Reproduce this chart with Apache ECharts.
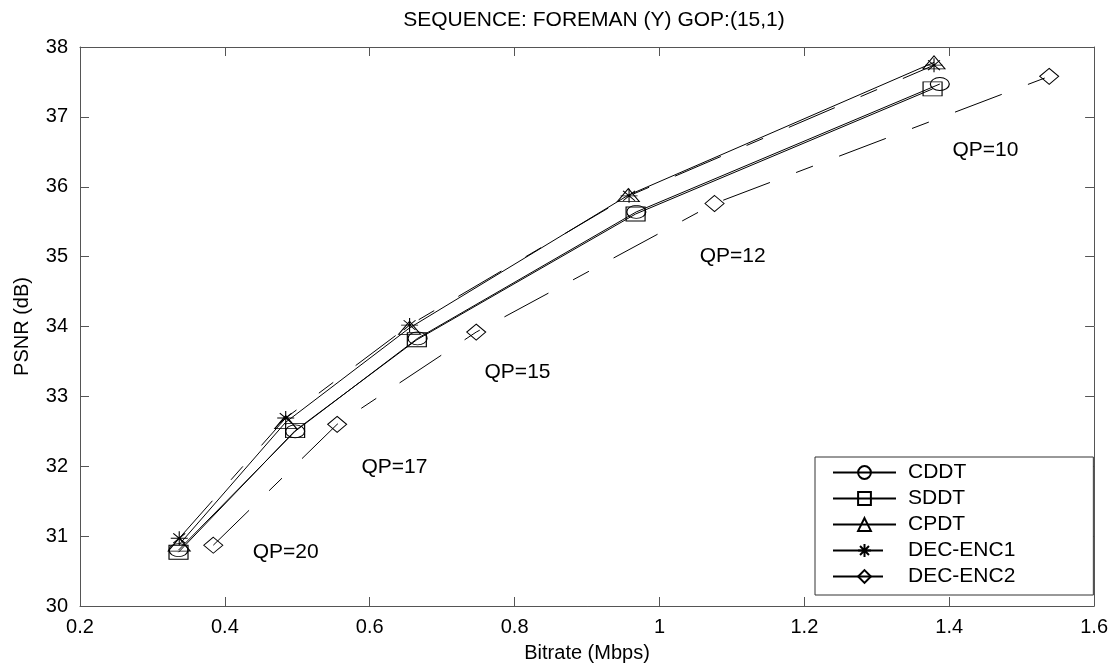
<!DOCTYPE html>
<html>
<head>
<meta charset="utf-8">
<script src="https://cdn.jsdelivr.net/npm/echarts@6/dist/echarts.min.js"></script>
<style>
html,body{margin:0;padding:0;background:#fff;}
#c{width:1111px;height:669px;}
</style>
</head>
<body>
<div id="c"></div>
<script>
// ---- data ----
const seriesNames = ['CDDT', 'SDDT', 'CPDT', 'DEC-ENC1', 'DEC-ENC2'];
const cddtRate = [0.336, 0.497, 0.666, 0.968, 1.387];
const cddtPsnr = [30.80, 32.50, 33.83, 35.64, 37.47];
const sddtRate = [0.336, 0.497, 0.665, 0.967, 1.377];
const sddtPsnr = [30.77, 32.51, 33.81, 35.61, 37.40];
const cpdtRate = [0.337, 0.484, 0.655, 0.957, 1.379];
const cpdtPsnr = [30.88, 32.63, 33.98, 35.88, 37.78];
const enc1Rate = [0.337, 0.484, 0.655, 0.958, 1.379];
const enc1Psnr = [30.97, 32.69, 34.02, 35.87, 37.74];
const enc2Rate = [0.384, 0.555, 0.747, 1.076, 1.538];
const enc2Psnr = [30.87, 32.60, 33.92, 35.76, 37.58];
const qpText = ['QP=20', 'QP=17', 'QP=15', 'QP=12', 'QP=10'];
const qpRate = [0.484, 0.634, 0.804, 1.101, 1.450];
const qpPsnr = [30.77, 31.99, 33.34, 35.00, 36.53];

const FONT = 'Liberation Sans, Arial, Helvetica, sans-serif';
const pair = (xs, ys) => xs.map((x, i) => [x, ys[i]]);
const starPath = 'path://M10,0L10,20M0,10L20,10M3,3L17,17M3,17L17,3';

function lineSeries(name, xs, ys, symbol, size, dash) {
  return {
    name: name,
    type: 'line',
    data: pair(xs, ys),
    xAxisIndex: 0, yAxisIndex: 0,
    symbol: symbol,
    symbolSize: size,
    showAllSymbol: true,
    lineStyle: { color: '#000', width: 1, type: dash || 'solid' },
    itemStyle: { color: 'rgba(0,0,0,0)', borderColor: '#000', borderWidth: 1 },
    emphasis: { disabled: true },
    animation: false,
    z: 3
  };
}

const axisLineStyle = { color: '#555', width: 1 };
const dashPat = [50, 28, 18, 28];

const option = {
  backgroundColor: '#fff',
  animation: false,
  title: {
    text: 'SEQUENCE: FOREMAN (Y) GOP:(15,1)',
    left: 589, top: 5, textAlign: 'center',
    textStyle: { fontFamily: FONT, fontSize: 21, fontWeight: 'normal', color: '#000' }
  },
  grid: { left: 80, right: 13, top: 47, bottom: 63, containLabel: false },
  legend: {
    data: seriesNames,
    orient: 'vertical',
    left: 815, top: 457,
    padding: [5, 78, 8, 17],
    itemWidth: 63, itemHeight: 16, itemGap: 5,
    borderColor: '#333', borderWidth: 1,
    backgroundColor: '#fff',
    textStyle: { fontFamily: FONT, fontSize: 21, color: '#000', padding: [0, 0, 0, 7] },
    selectedMode: false
  },
  xAxis: [{
    type: 'value', min: 0.2, max: 1.6, interval: 0.2, position: 'bottom',
    name: 'Bitrate (Mbps)', nameLocation: 'middle', nameGap: 37,
    nameTextStyle: { fontFamily: FONT, fontSize: 20, color: '#000' },
    axisLine: { show: true, lineStyle: axisLineStyle },
    axisTick: { show: true, inside: true, length: 9, lineStyle: axisLineStyle },
    axisLabel: { fontFamily: FONT, fontSize: 20, color: '#000', margin: 11 },
    splitLine: { show: false }
  }, {
    type: 'value', min: 0.2, max: 1.6, interval: 0.2, position: 'top',
    axisLine: { show: true, lineStyle: axisLineStyle },
    axisTick: { show: true, inside: true, length: 9, lineStyle: axisLineStyle },
    axisLabel: { show: false },
    splitLine: { show: false }
  }],
  yAxis: [{
    type: 'value', min: 30, max: 38, interval: 1, position: 'left',
    name: 'PSNR (dB)', nameLocation: 'middle', nameGap: 48, nameRotate: 90,
    nameTextStyle: { fontFamily: FONT, fontSize: 20, color: '#000' },
    axisLine: { show: true, lineStyle: axisLineStyle },
    axisTick: { show: true, inside: true, length: 9, lineStyle: axisLineStyle },
    axisLabel: { fontFamily: FONT, fontSize: 20, color: '#000', margin: 12 },
    splitLine: { show: false }
  }, {
    type: 'value', min: 30, max: 38, interval: 1, position: 'right',
    axisLine: { show: true, lineStyle: axisLineStyle },
    axisTick: { show: true, inside: true, length: 9, lineStyle: axisLineStyle },
    axisLabel: { show: false },
    splitLine: { show: false }
  }],
  series: [
    lineSeries('CDDT', cddtRate, cddtPsnr, 'circle', [19, 13]),
    lineSeries('SDDT', sddtRate, sddtPsnr, 'rect', [19, 14]),
    lineSeries('CPDT', cpdtRate, cpdtPsnr, 'triangle', [22, 13]),
    lineSeries('DEC-ENC1', enc1Rate, enc1Psnr, starPath, [17, 14], dashPat),
    lineSeries('DEC-ENC2', enc2Rate, enc2Psnr, 'diamond', [19, 16], dashPat),
    {
      name: 'qp', type: 'scatter', xAxisIndex: 0, yAxisIndex: 0,
      data: qpRate.map((x, i) => [x, qpPsnr[i], qpText[i]]),
      symbolSize: 0,
      silent: true,
      itemStyle: { opacity: 1, color: '#000' },
      label: {
        show: true, position: 'inside',
        formatter: p => p.value[2],
        fontFamily: FONT, fontSize: 21, color: '#000', opacity: 1,
        textBorderWidth: 0
      },
      z: 4
    }
  ]
};

const chart = echarts.init(document.getElementById('c'), null, { renderer: 'canvas' });
chart.setOption(option);
</script>
</body>
</html>
